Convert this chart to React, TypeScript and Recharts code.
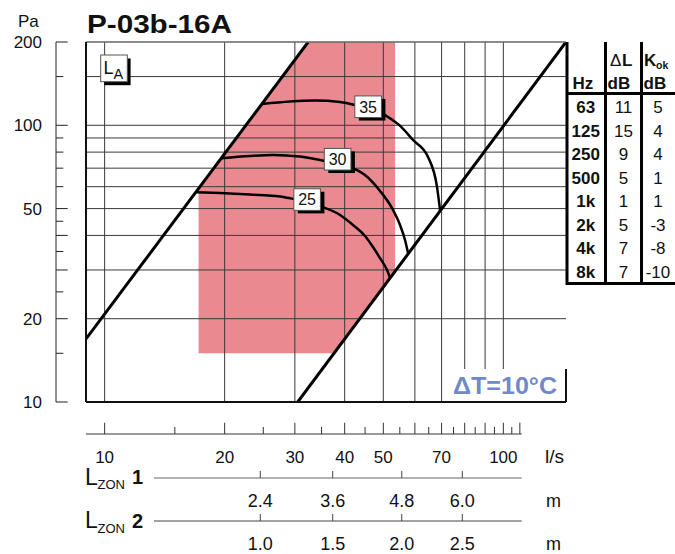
import React from 'react';
import { ComposedChart, Area, Line, XAxis, YAxis, ReferenceLine, ReferenceDot } from 'recharts';

const FONT = '"Liberation Sans", Arial, Helvetica, sans-serif';

// axis ranges (l/s, Pa)
const X_DOMAIN = [8.98, 143.6];
const Y_DOMAIN = [10, 200];

// iso dB(A) curves: flow l/s / pressure Pa
const Q25 = [16.95, 19.47, 23.15, 27.53, 29.68, 35.1, 38.94, 41.97, 44.98, 47.11, 49.06, 51.08, 51.98];
const P25 = [57.3, 56.9, 56.2, 55.3, 54.2, 50.7, 47.4, 43.6, 39.8, 36.3, 33.1, 30.0, 28.1];
const Q30 = [19.64, 23.15, 26.5, 30.89, 35.7, 41.9, 44.98, 49.06, 52.58, 55.07, 56.68, 57.66];
const P30 = [76.0, 77.5, 78.1, 77.1, 74.3, 70.1, 66.1, 57.9, 50.2, 43.6, 38.5, 34.6];
const Q35 = [24.81, 29.17, 33.69, 38.94, 42.46, 50.5, 54.75, 59.37, 64.73, 68.19, 69.38];
const P35 = [119.4, 121.9, 122.9, 121.4, 118.4, 108.9, 100.3, 88.5, 76.8, 59.8, 49.4];

// curve labels
const LABEL_TEXT = ['25', '30', '35'];
const LABEL_Q = [32.2, 38.4, 45.8];
const LABEL_P = [53.9, 75.4, 116.7];

// working limits (diagonals)
const LEFT_Q = [8.98, 32.4];
const LEFT_P = [16.9, 200];
const RIGHT_Q = [30.5, 143.6];
const RIGHT_P = [10, 200];

// red zone
const ZONE_Q = [17.2, 32.4, 37.6, 53.5];
const ZONE_LOW = [15, 15, 15, 29.6];
const ZONE_HIGH = [59.4, 200, 200, 200];

// grid + ticks
const GRID_Q = [10, 20, 30, 40, 50, 60, 70, 80, 90, 100];
const GRID_P = [20, 30, 40, 50, 60, 70, 80, 90, 100, 150];
const PA_TICKS = [10, 15, 20, 25, 30, 35, 40, 45, 50, 60, 70, 80, 90, 100, 150, 200];
const PA_LONG = [10, 20, 30, 40, 50, 100, 200];
const PA_LABELS = [10, 20, 50, 100, 200];
const LS_TICKS = [10, 15, 20, 25, 30, 35, 40, 45, 50, 55, 60, 65, 70, 75, 80, 85, 90, 95, 100, 105, 110];
const LS_LABELS = [10, 20, 30, 40, 50, 70, 100];
const ZON_Q = [24.57, 37.33, 55.62, 78.9];
const ZON1_LABELS = ['2.4', '3.6', '4.8', '6.0'];
const ZON2_LABELS = ['1.0', '1.5', '2.0', '2.5'];

// octave table
const HZ = ['63', '125', '250', '500', '1k', '2k', '4k', '8k'];
const DELTA_L = ['11', '15', '9', '5', '1', '5', '7', '7'];
const K_OK = ['5', '4', '4', '1', '1', '-3', '-8', '-10'];

const zip = (qs: number[], ps: number[]) => qs.map((q, i) => ({ q, p: ps[i] }));
const zoneData = ZONE_Q.map((q, i) => ({ q, range: [ZONE_LOW[i], ZONE_HIGH[i]] }));

function PaTick(props: any) {
  const { x, y, payload } = props;
  const v = payload.value;
  const len = PA_LONG.includes(v) ? 11.7 : 7.3;
  return (
    <g>
      <line x1={x} x2={x + len} y1={y} y2={y} stroke="#222" strokeWidth={1} />
      {PA_LABELS.includes(v) && (
        <text x={x - 14} y={y + 6} textAnchor="end" fontSize={17} fill="#111">{v}</text>
      )}
    </g>
  );
}

function LsTick(props: any) {
  const { x, y, payload } = props;
  const v = payload.value;
  const len = v % 10 === 0 ? 11.3 : 7;
  return (
    <g>
      <line x1={x} x2={x} y1={y} y2={y - len} stroke="#333" strokeWidth={1} />
      {LS_LABELS.includes(v) && (
        <text x={x} y={y + 29.3} textAnchor="middle" fontSize={17} fill="#111">{v}</text>
      )}
    </g>
  );
}

const zonTick = (labels: string[]) => (props: any) => {
  const { x, y, index } = props;
  return (
    <g>
      <line x1={x} x2={x} y1={y} y2={y - 7} stroke="#444" strokeWidth={1} />
      <text x={x} y={y + 29} textAnchor="middle" fontSize={18} fill="#111">{labels[index]}</text>
    </g>
  );
};

const curveLabel = (text: string) => (props: any) => {
  const { cx, cy } = props;
  const w = 26.6;
  const h = 21.6;
  return (
    <g>
      <rect x={cx - w / 2 + 4} y={cy - h / 2 + 3} width={w} height={h} fill="#000" />
      <rect x={cx - w / 2} y={cy - h / 2} width={w} height={h} fill="#fff" stroke="#555" strokeWidth={1} />
      <text x={cx} y={cy + 5.8} textAnchor="middle" fontSize={16} fill="#111" fontFamily={FONT}>{text}</text>
    </g>
  );
};

const axisCommon = {
  type: 'number' as const,
  scale: 'log' as const,
  allowDataOverflow: true,
};

export default function App() {
  const rowTop = 95.5;
  const rowH = 23.5;
  return (
    <div style={{ position: 'absolute', left: 0, top: 0, width: 675, height: 554, background: '#fff', fontFamily: FONT }}>
      <ComposedChart width={675} height={554} margin={{ top: 41, right: 109, bottom: 0, left: 0 }}>
        <XAxis xAxisId="a_plot" dataKey="q" {...axisCommon} domain={X_DOMAIN} height={32} tick={false} tickLine={false}
          axisLine={{ stroke: '#111', strokeWidth: 2 }} />
        <XAxis xAxisId="b_flow" dataKey="q" {...axisCommon} domain={X_DOMAIN} height={44} ticks={LS_TICKS} tick={LsTick}
          tickLine={false} tickSize={0} tickMargin={0} interval={0}
          axisLine={{ stroke: '#333', strokeWidth: 1, strokeDasharray: '435.7 200' }} />
        <XAxis xAxisId="c_zon1" dataKey="q" {...axisCommon} domain={X_DOMAIN} height={43} ticks={ZON_Q}
          tick={zonTick(ZON1_LABELS)} tickLine={false} tickSize={0} tickMargin={0} interval={0}
          axisLine={{ stroke: '#666', strokeWidth: 1, strokeDasharray: '0 68 367.7 200' }} />
        <XAxis xAxisId="d_zon2" dataKey="q" {...axisCommon} domain={X_DOMAIN} height={33} ticks={ZON_Q}
          tick={zonTick(ZON2_LABELS)} tickLine={false} tickSize={0} tickMargin={0} interval={0}
          axisLine={{ stroke: '#444', strokeWidth: 1, strokeDasharray: '0 68 367.7 200' }} />
        <XAxis xAxisId="e_top" dataKey="q" orientation="top" {...axisCommon} domain={X_DOMAIN} height={1} tick={false}
          tickLine={false} axisLine={{ stroke: '#666', strokeWidth: 1.5 }} />
        <YAxis yAxisId="main" {...axisCommon} domain={Y_DOMAIN} width={30} tick={false} tickLine={false}
          axisLine={{ stroke: '#111', strokeWidth: 2 }} />
        <YAxis yAxisId="pa" {...axisCommon} domain={Y_DOMAIN} width={56} ticks={PA_TICKS} tick={PaTick}
          tickLine={false} tickSize={0} tickMargin={0} interval={0} axisLine={{ stroke: '#222', strokeWidth: 1 }} />
        <YAxis yAxisId="right" orientation="right" {...axisCommon} domain={Y_DOMAIN} width={0} tick={false}
          tickLine={false} axisLine={{ stroke: '#666', strokeWidth: 1.5 }} />

        <Area xAxisId="a_plot" yAxisId="main" data={zoneData} dataKey="range" type="linear" fill="#ea8a90"
          fillOpacity={1} stroke="none" isAnimationActive={false} />

        {GRID_Q.map((v) => (
          <ReferenceLine key={'gx' + v} xAxisId="a_plot" yAxisId="main" x={v} stroke="#3a3a3a" strokeWidth={1} />
        ))}
        {GRID_P.map((v) => (
          <ReferenceLine key={'gy' + v} xAxisId="a_plot" yAxisId="main" y={v} stroke="#3a3a3a" strokeWidth={1} />
        ))}

        <Line xAxisId="a_plot" yAxisId="main" data={zip(LEFT_Q, LEFT_P)} dataKey="p" type="linear" stroke="#000"
          strokeWidth={3} dot={false} isAnimationActive={false} />
        <Line xAxisId="a_plot" yAxisId="main" data={zip(RIGHT_Q, RIGHT_P)} dataKey="p" type="linear" stroke="#000"
          strokeWidth={3} dot={false} isAnimationActive={false} />
        <Line xAxisId="a_plot" yAxisId="main" data={zip(Q25, P25)} dataKey="p" type="monotone" stroke="#000"
          strokeWidth={2.5} dot={false} isAnimationActive={false} />
        <Line xAxisId="a_plot" yAxisId="main" data={zip(Q30, P30)} dataKey="p" type="monotone" stroke="#000"
          strokeWidth={2.5} dot={false} isAnimationActive={false} />
        <Line xAxisId="a_plot" yAxisId="main" data={zip(Q35, P35)} dataKey="p" type="monotone" stroke="#000"
          strokeWidth={2.5} dot={false} isAnimationActive={false} />

        {LABEL_TEXT.map((t, i) => (
          <ReferenceDot key={t} xAxisId="a_plot" yAxisId="main" x={LABEL_Q[i]} y={LABEL_P[i]} shape={curveLabel(t)} />
        ))}
      </ComposedChart>

      <svg width={675} height={554} style={{ position: 'absolute', left: 0, top: 0, pointerEvents: 'none' }}
        fontFamily={FONT}>
        <text x={87} y={33.3} fontSize={25.5} fontWeight="bold" fill="#111" textLength={145}
          lengthAdjust="spacingAndGlyphs">P-03b-16A</text>
        <text x={18} y={27} fontSize={17} fill="#111">Pa</text>

        {/* L_A box */}
        <rect x={104} y={58.5} width={26.6} height={26.7} fill="#000" />
        <rect x={100.7} y={55} width={26.6} height={26.7} fill="#fff" stroke="#555" strokeWidth={1} />
        <text x={103.5} y={73.5} fontSize={18} fill="#111">L</text>
        <text x={113.5} y={79} fontSize={14.5} fill="#111">A</text>

        {/* delta T box */}
        <rect x={451} y={369} width={115} height={32} fill="#fff" />
        <line x1={566} x2={566} y1={369} y2={402} stroke="#111" strokeWidth={2} />
        <text x={453} y={394} fontSize={24.5} fontWeight="bold" fill="#7189c8" textLength={104}
          lengthAdjust="spacingAndGlyphs">ΔT=10°C</text>

        {/* octave table */}
        <rect x={567} y={42} width={108} height={242} fill="#fff" />
        <line x1={567} x2={567} y1={42} y2={285} stroke="#000" strokeWidth={3} />
        <line x1={605.5} x2={605.5} y1={42} y2={285} stroke="#000" strokeWidth={3} />
        <line x1={641.5} x2={641.5} y1={42} y2={285} stroke="#000" strokeWidth={3} />
        <line x1={566} x2={675} y1={93.5} y2={93.5} stroke="#000" strokeWidth={3} />
        <line x1={566} x2={675} y1={283.5} y2={283.5} stroke="#000" strokeWidth={3} />
        <text x={610} y={66} fontSize={17} fill="#111">Δ</text>
        <text x={622} y={66} fontSize={17} fontWeight="bold" fill="#111">L</text>
        <text x={644} y={66} fontSize={17} fontWeight="bold" fill="#111">K</text>
        <text x={656} y={69} fontSize={10.5} fontWeight="bold" fill="#111">ok</text>
        <text x={572.5} y={89.3} fontSize={17} fontWeight="bold" fill="#111">Hz</text>
        <text x={607.5} y={89.3} fontSize={17} fontWeight="bold" fill="#111">dB</text>
        <text x={643.5} y={89.3} fontSize={17} fontWeight="bold" fill="#111">dB</text>
        {HZ.map((h, i) => {
          const yb = rowTop + rowH * i + rowH / 2 + 6;
          return (
            <g key={h}>
              <text x={585.8} y={yb} fontSize={17} fontWeight="bold" textAnchor="middle" fill="#111">{h}</text>
              <text x={623.5} y={yb} fontSize={17} textAnchor="middle" fill="#111">{DELTA_L[i]}</text>
              <text x={658} y={yb} fontSize={17} textAnchor="middle" fill="#111">{K_OK[i]}</text>
            </g>
          );
        })}

        {/* bottom axis titles */}
        <text x={545} y={463} fontSize={19} fill="#111">l/s</text>
        <text x={546} y={507} fontSize={18} fill="#111">m</text>
        <text x={546} y={550} fontSize={18} fill="#111">m</text>
        {['1', '2'].map((n, r) => (
          <g key={n}>
            <text x={85} y={485 + r * 43.3} fontSize={23} fill="#111">L</text>
            <text x={97.5} y={489.3 + r * 43.3} fontSize={13} fill="#111">ZON</text>
            <text x={132} y={484.3 + r * 43.3} fontSize={20} fontWeight="bold" fill="#111">{n}</text>
          </g>
        ))}
      </svg>
    </div>
  );
}
